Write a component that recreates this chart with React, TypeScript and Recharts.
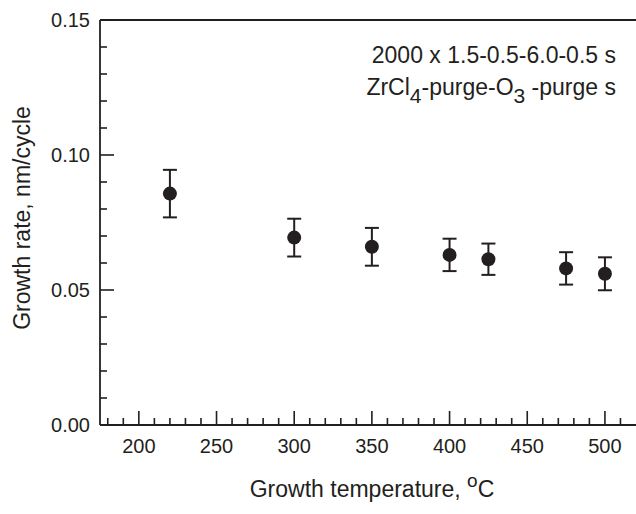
import { ScatterChart, Scatter, XAxis, YAxis, ErrorBar, ReferenceLine } from 'recharts';

// growth temperature (°C) and growth rate (nm/cycle)
const TEMPS = [220, 300, 350, 400, 425, 475, 500];
const RATES = [0.0857, 0.0694, 0.066, 0.063, 0.0614, 0.058, 0.056];
const ERRS = [0.0088, 0.007, 0.007, 0.006, 0.0058, 0.006, 0.0061];

const X_TICKS = [180, 190, 200, 210, 220, 230, 240, 250, 260, 270, 280, 290, 300, 310, 320, 330, 340, 350, 360, 370, 380, 390, 400, 410, 420, 430, 440, 450, 460, 470, 480, 490, 500, 510];
const Y_TICKS = [0, 0.01, 0.02, 0.03, 0.04, 0.05, 0.06, 0.07, 0.08, 0.09, 0.1, 0.11, 0.12, 0.13, 0.14, 0.15];

const INK = '#231f20';
const FONT = '"Liberation Sans", Arial, Helvetica, sans-serif';

const data = TEMPS.map((t, i) => ({ t, rate: RATES[i], err: ERRS[i] }));

const XTick = (props: any) => {
  const { x, y, payload } = props;
  const v = payload.value;
  const major = v % 50 === 0;
  return (
    <g>
      <line x1={x} y1={y} x2={x} y2={y - (major ? 14 : 7)} stroke={INK} strokeWidth={1.6} />
      {major && (
        <text x={x} y={y + 28} textAnchor="middle" fontSize={20} fill={INK} fontFamily={FONT}>
          {v}
        </text>
      )}
    </g>
  );
};

const YTick = (props: any) => {
  const { x, y, payload } = props;
  const v = payload.value;
  const major = Math.round(v * 100) % 5 === 0;
  return (
    <g>
      <line x1={x} y1={y} x2={x + (major ? 14 : 7)} y2={y} stroke={INK} strokeWidth={1.6} />
      {major && (
        <text x={x - 10} y={y + 7} textAnchor="end" fontSize={20} fill={INK} fontFamily={FONT}>
          {v.toFixed(2)}
        </text>
      )}
    </g>
  );
};

const Dot = (props: any) => <circle cx={props.cx} cy={props.cy} r={7} fill={INK} />;

export default function App() {
  return (
    <div style={{ position: 'absolute', left: 0, top: 0, width: 636, height: 514, background: '#fff' }}>
      <ScatterChart width={636} height={514} margin={{ top: 20, right: 0, bottom: 0, left: 0 }}>
        <XAxis
          type="number"
          dataKey="t"
          domain={[175, 520]}
          ticks={X_TICKS}
          interval={0}
          tick={<XTick />}
          tickSize={0}
          tickMargin={0}
          height={89}
          axisLine={{ stroke: INK, strokeWidth: 1.8 }}
          allowDataOverflow
        />
        <YAxis
          type="number"
          dataKey="rate"
          domain={[0, 0.15]}
          ticks={Y_TICKS}
          interval={0}
          tick={<YTick />}
          tickSize={0}
          tickMargin={0}
          width={100}
          axisLine={{ stroke: INK, strokeWidth: 1.8 }}
          allowDataOverflow
        />
        <ReferenceLine y={0.15} stroke={INK} strokeWidth={1.8} />
        <Scatter data={data} shape={<Dot />} isAnimationActive={false}>
          <ErrorBar dataKey="err" direction="y" width={7} stroke={INK} strokeWidth={2} />
        </Scatter>
      </ScatterChart>
      <svg width={636} height={514} style={{ position: 'absolute', left: 0, top: 0, pointerEvents: 'none' }}>
        <g fontFamily={FONT} fill={INK}>
          <text x={616} y={63} textAnchor="end" fontSize={23}>
            2000 x 1.5-0.5-6.0-0.5 s
          </text>
          <text x={616} y={95} textAnchor="end" fontSize={23}>
            ZrCl<tspan fontSize={21} dy={8}>4</tspan>
            <tspan dy={-8}>-purge-O</tspan>
            <tspan fontSize={21} dy={8}>3</tspan>
            <tspan dy={-8}> -purge s</tspan>
          </text>
          <text x={372} y={497} textAnchor="middle" fontSize={23}>
            Growth temperature, <tspan fontSize={19} dy={-10}>o</tspan>
            <tspan dy={10}>C</tspan>
          </text>
          <text x={22} y={218} textAnchor="middle" fontSize={23} transform="rotate(-90 22 218)" dominantBaseline="central">
            Growth rate, nm/cycle
          </text>
        </g>
      </svg>
    </div>
  );
}
